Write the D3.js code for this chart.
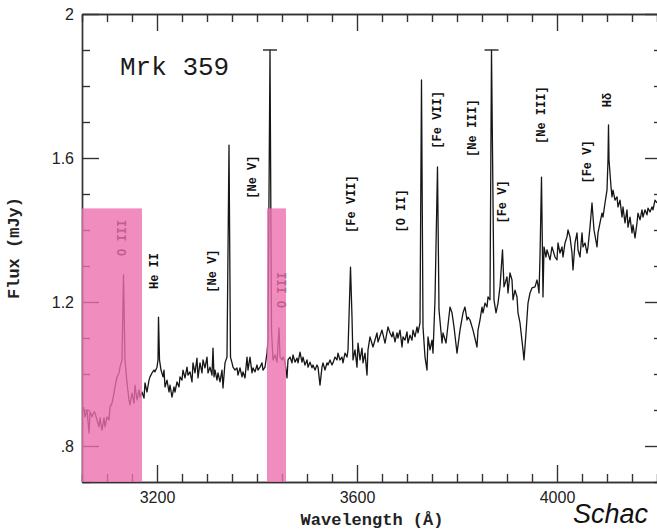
<!DOCTYPE html>
<html>
<head>
<meta charset="utf-8">
<script src="https://cdn.jsdelivr.net/npm/d3@7"></script>
<style>
  html, body { margin: 0; padding: 0; background: #fff; }
  svg { display: block; }
  .axis path, .axis line { stroke: #333; stroke-width: 1.4px; }
  .axis text { font-family: "Liberation Sans", Arial, sans-serif; font-size: 16px; fill: #222; }
  .line-label { font-family: "Liberation Mono", "DejaVu Sans Mono", monospace; font-weight: bold; font-size: 12px; fill: #111; }
  .axis-title { font-family: "Liberation Mono", "DejaVu Sans Mono", monospace; font-weight: bold; font-size: 17px; fill: #222; }
</style>
</head>
<body>
<div id="chart-container"></div>
<script>
// Spectrum of Mrk 359 (wavelength in Å, flux in mJy)
const wavelength = [
  3053, 3056, 3060, 3064, 3066, 3070, 3074, 3076, 3080, 3084, 3086, 3090, 3094, 3096, 3100, 3104,
  3106, 3110, 3114, 3116, 3120, 3124, 3126, 3130, 3133, 3136, 3140, 3144, 3146, 3150, 3154, 3156,
  3160, 3164, 3166, 3170, 3174, 3176, 3180, 3184, 3186, 3190, 3194, 3196, 3200, 3202, 3203, 3205,
  3208, 3212, 3214, 3216, 3220, 3224, 3226, 3230, 3234, 3236, 3240, 3244, 3246,
  3250, 3252, 3256, 3260, 3262, 3266, 3270, 3272, 3276, 3280, 3282, 3286, 3290, 3292, 3296, 3300,
  3302, 3306, 3310, 3312, 3314, 3316, 3320, 3322, 3326, 3330, 3332, 3336, 3340, 3344, 3347, 3350,
  3352, 3356, 3360, 3362, 3366, 3370, 3372, 3376, 3380, 3382, 3386, 3390, 3392, 3396, 3400, 3402,
  3406, 3410, 3412, 3416, 3420, 3422, 3426, 3429, 3432, 3436, 3440, 3444, 3446, 3450, 3452, 3456,
  3460, 3462, 3466, 3470, 3472, 3476, 3480, 3482, 3486, 3490, 3492, 3496, 3500, 3502, 3506, 3510,
  3512, 3516, 3520, 3522, 3526, 3530, 3532, 3536, 3540, 3542, 3546, 3550, 3552, 3556, 3560, 3562,
  3566, 3570, 3572, 3576, 3580, 3582, 3584, 3587, 3590, 3592, 3596, 3600, 3602, 3606, 3610, 3612,
  3616, 3620, 3622, 3626, 3632, 3640, 3642, 3650, 3656, 3662, 3666, 3670, 3672, 3676, 3680, 3682,
  3686, 3690, 3692, 3696, 3700, 3702, 3706, 3710, 3712, 3716, 3720, 3722, 3726, 3729, 3732, 3736,
  3740, 3742, 3746, 3750, 3752, 3756, 3761, 3764, 3770, 3772, 3778, 3786, 3790, 3794, 3800, 3806,
  3812, 3816, 3820, 3822, 3826, 3832, 3840, 3842, 3846, 3850, 3852, 3856, 3860, 3862, 3866, 3869,
  3874, 3878, 3882, 3886, 3891, 3894, 3900, 3902, 3906, 3910, 3912, 3916, 3920, 3922, 3926, 3932,
  3934, 3938, 3942, 3946, 3950, 3956, 3960, 3962, 3964, 3966, 3969, 3972, 3974, 3978, 3980, 3986,
  3990, 3996, 4000, 4002, 4006, 4010, 4012, 4016, 4020, 4022, 4026, 4030, 4032, 4036, 4040, 4042,
  4046, 4050, 4052, 4056, 4060, 4062, 4066, 4070, 4074, 4080, 4082, 4086, 4090, 4092, 4096, 4100,
  4102, 4103, 4104, 4108, 4110, 4112, 4116, 4120, 4122, 4126, 4130, 4132, 4136, 4140, 4142, 4146,
  4150, 4152, 4156, 4160, 4162, 4166, 4170, 4172, 4176, 4180, 4182, 4186, 4190, 4192, 4196, 4200
];
const flux = [
  0.908, 0.881, 0.900, 0.836, 0.895, 0.881, 0.895, 0.892, 0.872, 0.853, 0.878, 0.844, 0.878, 0.853, 0.881, 0.872,
  0.908, 0.919, 0.947, 0.964, 0.992, 1.003, 1.019, 1.039, 1.275, 1.039, 0.975, 0.928, 0.914, 0.947, 0.919, 0.969,
  0.928, 0.956, 0.936, 0.950, 0.933, 0.975, 0.950, 0.983, 0.992, 1.003, 1.011, 1.006, 1.019, 1.039, 1.158, 1.039,
  1.011, 0.992, 1.011, 0.964, 0.983, 0.950, 0.969, 0.936, 0.964, 0.950, 0.978, 0.964, 0.992,
  0.983, 1.011, 0.989, 1.019, 0.997, 1.006, 0.978, 1.031, 1.003, 1.044, 0.989, 1.031, 1.003, 1.039, 1.017, 1.047,
  1.003, 1.019, 0.997, 1.072, 0.992, 1.011, 0.983, 1.003, 0.978, 1.011, 0.961, 1.031, 1.047, 1.636, 1.047, 1.031,
  1.019, 1.011, 1.017, 0.997, 1.017, 0.992, 1.006, 0.989, 1.047, 1.011, 1.047, 1.003, 1.017, 1.006, 1.025, 1.011,
  1.019, 1.031, 1.011, 1.019, 1.058, 1.094, 1.900, 1.122, 1.039, 1.053, 1.033, 1.128, 1.047, 1.039, 1.047, 1.033,
  0.989, 1.039, 1.047, 1.031, 1.053, 1.033, 1.044, 1.031, 1.061, 1.033, 1.047, 1.025, 1.039, 1.019, 1.033, 1.017,
  1.025, 1.011, 1.025, 1.019, 0.969, 1.019, 1.031, 1.011, 1.031, 1.025, 1.039, 1.025, 1.031, 1.047, 1.039, 1.058,
  1.039, 1.047, 1.031, 1.058, 1.047, 1.067, 1.158, 1.297, 1.158, 1.039, 1.067, 1.019, 1.086, 1.039, 1.072, 1.031,
  1.058, 0.997, 1.067, 1.103, 1.075, 1.114, 1.089, 1.122, 1.086, 1.131, 1.114, 1.103, 1.117, 1.089, 1.114, 1.100,
  1.122, 1.075, 1.103, 1.094, 1.117, 1.086, 1.108, 1.094, 1.122, 1.103, 1.131, 1.114, 1.142, 1.817, 1.131, 1.047,
  1.011, 1.103, 1.067, 1.094, 1.058, 1.206, 1.575, 1.178, 1.086, 1.114, 1.086, 1.186, 1.170, 1.131, 1.058, 1.122,
  1.170, 1.186, 1.150, 1.158, 1.150, 1.122, 1.075, 1.122, 1.150, 1.186, 1.170, 1.197, 1.186, 1.214, 1.206, 1.900,
  1.206, 1.170, 1.197, 1.242, 1.345, 1.242, 1.270, 1.225, 1.281, 1.261, 1.206, 1.233, 1.214, 1.170, 1.142, 1.067,
  1.039, 1.114, 1.197, 1.225, 1.239, 1.242, 1.261, 1.247, 1.225, 1.325, 1.547, 1.214, 1.353, 1.325, 1.345, 1.317,
  1.353, 1.325, 1.317, 1.364, 1.336, 1.353, 1.325, 1.364, 1.381, 1.400, 1.381, 1.336, 1.289, 1.364, 1.392, 1.345,
  1.325, 1.392, 1.353, 1.364, 1.336, 1.353, 1.408, 1.475, 1.400, 1.353, 1.392, 1.420, 1.447, 1.436, 1.475, 1.511,
  1.595, 1.692, 1.595, 1.520, 1.492, 1.511, 1.483, 1.492, 1.464, 1.483, 1.436, 1.464, 1.420, 1.456, 1.408, 1.436,
  1.392, 1.414, 1.378, 1.420, 1.447, 1.428, 1.456, 1.436, 1.456, 1.442, 1.461, 1.450, 1.464, 1.456, 1.483, 1.475
];

// Saturated lines marked with a cap at the top of the plot
const capLines = [3426, 3869];
const capFlux = 1.9;

// Line identifications: label, wavelength of the label column, flux at the label centre
const lineLabels = ['O III', 'He II', '[Ne V]', '[Ne V]', 'O III', '[Fe VII]', '[O II]', '[Fe VII]', '[Ne III]', '[Fe V]', '[Ne III]', '[Fe V]', 'Hδ'];
const labelWave  = [3132, 3196, 3312, 3392, 3452, 3590, 3690, 3762, 3832, 3892, 3970, 4062, 4102];
const labelFlux  = [1.378, 1.286, 1.286, 1.547, 1.233, 1.472, 1.453, 1.706, 1.683, 1.478, 1.719, 1.589, 1.761];

// Highlighted bands (pink)
const bandStart = [3050, 3420];
const bandEnd   = [3170, 3458];
const bandTop   = 1.46;

// Axis ticks
const xMajorTicks = [3200, 3600, 4000];
const xMinorStep = 50;
const yMajorTicks = [0.8, 1.2, 1.6, 2.0];
const yTickLabels = ['.8', '1.2', '1.6', '2'];

const WIDTH = 657, HEIGHT = 531;
const svg = d3.select('#chart-container').append('svg')
    .attr('width', WIDTH)
    .attr('height', HEIGHT);

const xScale = d3.scaleLinear().domain([3050, 4210]).range([82, 662]);
const yScale = d3.scaleLinear().domain([0.7, 2.0]).range([482, 14]);

const xMinor = d3.range(3050, 4210 + 1, xMinorStep).filter(v => !xMajorTicks.includes(v));
const yMinor = d3.range(7, 21).map(v => v / 10).filter(v => !yMajorTicks.some(t => Math.abs(t - v) < 1e-9));

// Frame + ticks (all ticks point inward)
const MAJOR = 17, MINOR = 8;
function addAxis(axisFn, transform, values, size, labels) {
    const scale = (axisFn === d3.axisBottom || axisFn === d3.axisTop) ? xScale : yScale;
    const axis = axisFn(scale)
        .tickValues(values)
        .tickSizeInner(-size)
        .tickSizeOuter(0)
        .tickPadding(axisFn === d3.axisLeft ? 8 : 10)
        .tickFormat(labels ? (d, i) => labels[i] : () => '');
    svg.append('g')
        .attr('class', 'axis')
        .attr('transform', transform)
        .call(axis);
}
addAxis(d3.axisBottom, `translate(0,${yScale(0.7)})`, xMajorTicks, MAJOR, xMajorTicks.map(String));
addAxis(d3.axisBottom, `translate(0,${yScale(0.7)})`, xMinor, MINOR, null);
addAxis(d3.axisTop, `translate(0,${yScale(2.0)})`, xMajorTicks, MAJOR, null);
addAxis(d3.axisTop, `translate(0,${yScale(2.0)})`, xMinor, MINOR, null);
addAxis(d3.axisLeft, `translate(${xScale(3050)},0)`, yMajorTicks, MAJOR, yTickLabels);
addAxis(d3.axisLeft, `translate(${xScale(3050)},0)`, yMinor, MINOR, null);
addAxis(d3.axisRight, `translate(${xScale(4210)},0)`, yMajorTicks, MAJOR, null);
addAxis(d3.axisRight, `translate(${xScale(4210)},0)`, yMinor, MINOR, null);

// Spectrum
const points = wavelength.map((w, i) => [w, flux[i]]);
svg.append('path')
    .datum(points)
    .attr('fill', 'none')
    .attr('stroke', '#161616')
    .attr('stroke-width', 1.3)
    .attr('stroke-linejoin', 'round')
    .attr('d', d3.line().x(d => xScale(d[0])).y(d => yScale(d[1])));

// Caps on the saturated lines
svg.selectAll('.cap')
    .data(capLines)
    .enter()
    .append('line')
        .attr('class', 'cap')
        .attr('x1', d => xScale(d) - 7)
        .attr('x2', d => xScale(d) + 7)
        .attr('y1', yScale(capFlux))
        .attr('y2', yScale(capFlux))
        .attr('stroke', '#333')
        .attr('stroke-width', 1.5);

// Line labels, rotated to read upward
svg.selectAll('.line-label')
    .data(lineLabels)
    .enter()
    .append('text')
        .attr('class', 'line-label')
        .attr('transform', (d, i) => `translate(${xScale(labelWave[i])},${yScale(labelFlux[i])}) rotate(-90)`)
        .attr('text-anchor', 'middle')
        .attr('dominant-baseline', 'central')
        .text(d => d);

// Pink highlight bands on top, see-through
svg.selectAll('.band')
    .data(bandStart)
    .enter()
    .append('rect')
        .attr('class', 'band')
        .attr('x', (d, i) => xScale(d))
        .attr('width', (d, i) => xScale(bandEnd[i]) - xScale(d))
        .attr('y', yScale(bandTop))
        .attr('height', yScale(0.7) - yScale(bandTop))
        .attr('fill', '#ee6fae')
        .attr('opacity', 0.8);

// Object name
svg.append('text')
    .attr('x', 120)
    .attr('y', 75)
    .attr('font-family', '"Liberation Mono", monospace')
    .attr('font-size', 26)
    .attr('fill', '#1a1a1a')
    .text('Mrk 359');

// Axis titles
svg.append('text')
    .attr('class', 'axis-title')
    .attr('x', (xScale(3050) + xScale(4210)) / 2)
    .attr('y', 525)
    .attr('text-anchor', 'middle')
    .text('Wavelength (Å)');
svg.append('text')
    .attr('class', 'axis-title')
    .attr('transform', `translate(14,${(yScale(0.7) + yScale(2.0)) / 2}) rotate(-90)`)
    .attr('text-anchor', 'middle')
    .attr('dominant-baseline', 'central')
    .text('Flux (mJy)');

// Source caption (as much as the reference shows)
svg.append('text')
    .attr('x', 573)
    .attr('y', 523)
    .attr('font-family', '"Liberation Sans", Arial, sans-serif')
    .attr('font-style', 'italic')
    .attr('font-size', 27)
    .attr('fill', '#111')
    .text('Schac');
</script>
</body>
</html>
